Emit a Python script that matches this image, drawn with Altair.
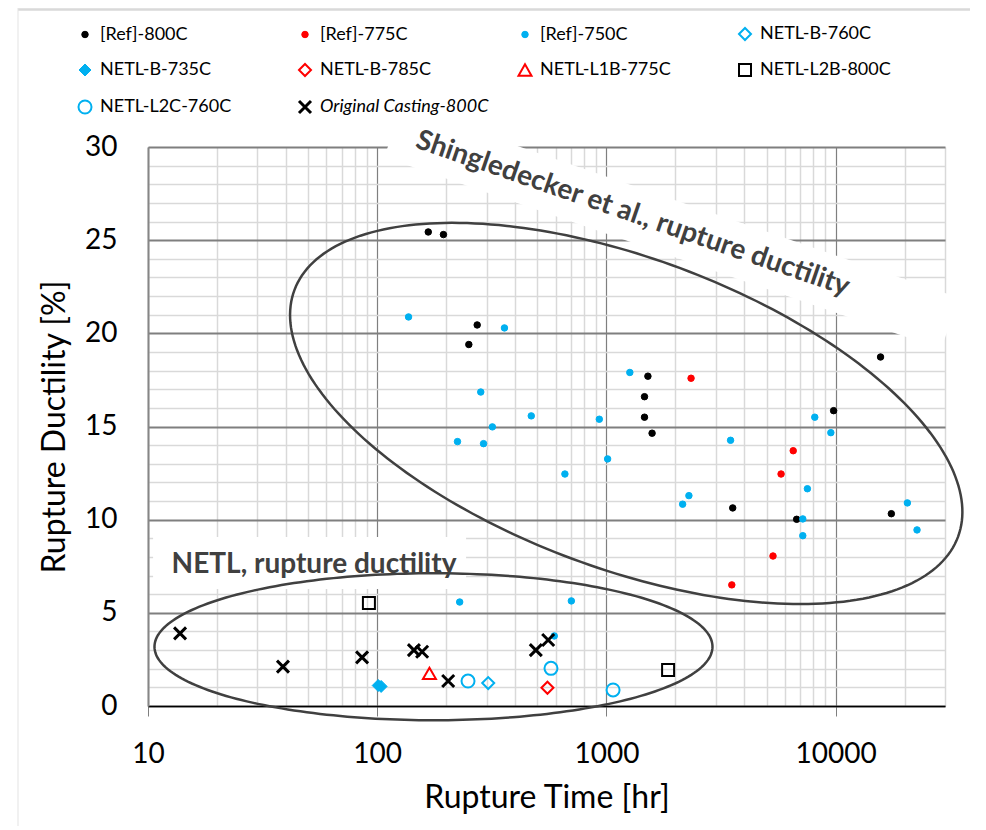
import math
import altair as alt
import pandas as pd

# ---------------- data ----------------
series_names = ["[Ref]-800C", "[Ref]-775C", "[Ref]-750C", "NETL-B-760C", "NETL-B-735C",
                "NETL-B-785C", "NETL-L1B-775C", "NETL-L2B-800C", "NETL-L2C-760C",
                "Original Casting-800C"]

ref800_t = [167, 194.5, 273, 251, 1517, 1466, 1466, 1582, 15700, 9800, 3556, 6760, 17500]
ref800_d = [25.44, 25.3, 20.45, 19.4, 17.7, 16.6, 15.5, 14.64, 18.73, 15.85, 10.63, 10.02, 10.32]

ref775_t = [2340, 6530, 5780, 5330, 3524]
ref775_d = [17.59, 13.7, 12.45, 8.05, 6.5]

ref750_t = [137, 359, 283, 470, 318, 224, 291, 229, 1265, 931, 8110, 9530, 3480, 1012,
            659, 2290, 2150, 7530, 7190, 7190, 20560, 22650, 703, 592]
ref750_d = [20.88, 20.29, 16.85, 15.57, 14.98, 14.19, 14.08, 5.58, 17.9, 15.39, 15.5, 14.67,
            14.26, 13.26, 12.45, 11.29, 10.83, 11.66, 10.04, 9.14, 10.9, 9.45, 5.64, 3.76]

b760_t = [305]
b760_d = [1.23]
b735_t = [101, 104]
b735_d = [1.1, 1.05]
b785_t = [553]
b785_d = [0.98]
l1b775_t = [169]
l1b775_d = [1.75]
l2b800_t = [92, 1858]
l2b800_d = [5.53, 1.93]
l2c760_t = [249, 573, 1069]
l2c760_d = [1.34, 2.02, 0.86]
orig800_t = [13.8, 38.8, 85.9, 144.6, 157, 204, 492, 557]
orig800_d = [3.9, 2.11, 2.61, 3.0, 2.91, 1.34, 3.0, 3.54]

series_t = [ref800_t, ref775_t, ref750_t, b760_t, b735_t, b785_t, l1b775_t, l2b800_t, l2c760_t, orig800_t]
series_d = [ref800_d, ref775_d, ref750_d, b760_d, b735_d, b785_d, l1b775_d, l2b800_d, l2c760_d, orig800_d]

x_ticks = [10, 20, 30, 40, 50, 60, 70, 80, 90,
           100, 200, 300, 400, 500, 600, 700, 800, 900,
           1000, 2000, 3000, 4000, 5000, 6000, 7000, 8000, 9000,
           10000, 20000, 30000]
y_ticks = list(range(0, 31))

# annotations
ann_text = ["Shingledecker et al., rupture ductility", "NETL, rupture ductility"]
ann_t = [1268, 53.0]
ann_d = [26.0, 7.14]
ann_angle = [19, 0]

# ---------------- styles ----------------
BLACK, RED, BLUE = "#000000", "#FF0000", "#00B0F0"
X_PATH = "M-1,-1L1,1M1,-1L-1,1"
shapes = ["circle", "circle", "circle", "diamond", "diamond", "diamond", "triangle-up",
          "square", "circle", X_PATH]
fills = [BLACK, RED, BLUE, "transparent", BLUE, "transparent", "transparent",
         "transparent", "transparent", "transparent"]
strokes = [BLACK, RED, BLUE, BLUE, BLUE, RED, RED, BLACK, BLUE, BLACK]
sizes = [42, 42, 42, 144, 144, 144, 169, 144, 169, 144]
swidths = [1, 1, 1, 2, 1, 2, 2, 2, 2, 3]

W, H = 797, 559
XMIN, XMAX = 10, 30000
L0, L1 = math.log10(XMIN), math.log10(XMAX)


def x_to_px(x):
    return (math.log10(x) - L0) / (L1 - L0) * W


def px_to_x(px):
    return 10 ** (L0 + px / W * (L1 - L0))


def y_to_py(y):
    return (1 - y / 30.0) * H


def py_to_y(py):
    return 30.0 * (1 - py / H)


rows = []
for name, ts, ds in zip(series_names, series_t, series_d):
    for t, d in zip(ts, ds):
        rows.append({"series": name, "t": t, "d": d})
pts = pd.DataFrame(rows)

# ellipses: center (data), semi-axes in px, rotation
ell_params = [("big", 1220, 15.7, 354, 155, 20.4), ("small", 176, 3.18, 279, 73.5, 0.0)]
erows = []
for nm, cx, cy, a, b, rot in ell_params:
    cxp, cyp = x_to_px(cx), y_to_py(cy)
    th = math.radians(rot)
    n = 240
    for i in range(n + 1):
        tt = 2 * math.pi * i / n
        px = cxp + a * math.cos(th) * math.cos(tt) - b * math.sin(th) * math.sin(tt)
        py = cyp + a * math.sin(th) * math.cos(tt) + b * math.cos(th) * math.sin(tt)
        erows.append({"name": nm, "i": i, "t": px_to_x(px), "d": py_to_y(py)})
ell = pd.DataFrame(erows)

xs = alt.Scale(type="log", domain=[XMIN, XMAX], nice=False)
ys = alt.Scale(domain=[0, 30], nice=False, zero=False)

xmaj = "datum.value == 10 || datum.value == 100 || datum.value == 1000 || datum.value == 10000"
ymaj = "datum.value % 5 == 0"

x_axis = alt.Axis(
    values=x_ticks, labelOverlap=False, labelFlush=False,
    labelExpr="(" + xmaj + ") ? format(datum.value, 'd') : ''",
    labelFont="Lato", labelFontSize=28, labelColor="black", labelPadding=24,
    tickSize=10, tickColor={"condition": {"test": xmaj, "value": "#7f7f7f"}, "value": "transparent"},
    grid=True,
    gridColor={"condition": {"test": xmaj, "value": "#7f7f7f"}, "value": "#d9d9d9"},
    gridWidth={"condition": {"test": xmaj, "value": 1.2}, "value": 1.5},
    domainColor="black", domainWidth=1.5,
    titleFont="Lato", titleFontSize=32, titleFontWeight="normal",
    titleColor="black", titlePadding=14,
)
y_axis = alt.Axis(
    values=y_ticks, labelOverlap=False, labelFlush=False,
    labelExpr="(" + ymaj + ") ? datum.label : ''",
    labelFont="Lato", labelFontSize=28, labelColor="black", labelPadding=31,
    ticks=False, grid=True,
    gridColor={"condition": {"test": ymaj, "value": "#7f7f7f"}, "value": "#d9d9d9"},
    gridWidth={"condition": {"test": ymaj, "value": 1.8}, "value": 1.5},
    domainColor="#868686", domainWidth=2,
    titleFont="Lato", titleFontSize=32, titleFontWeight="normal",
    titleColor="black", titlePadding=13,
)

legend = alt.Legend(
    title=None, orient="none", legendX=-72, legendY=-123, columns=4, direction="horizontal",
    gridAlign="all", columnPadding=24, rowPadding=13, labelFont="Lato", labelFontSize=18,
    labelColor="black", labelOffset=6, padding=0, labelLimit=400,
    labelFontStyle=alt.ExprRef(expr="datum.label == 'Original Casting-800C' ? 'italic' : 'normal'"),
)

X = alt.X("t:Q", scale=xs, axis=x_axis, title="Rupture Time [hr]")
Y = alt.Y("d:Q", scale=ys, axis=y_axis, title="Rupture Ductility [%]")

points = alt.Chart(pts).mark_point(opacity=1).encode(
    x=X, y=Y,
    shape=alt.Shape("series:N", scale=alt.Scale(domain=series_names, range=shapes), legend=legend),
    fill=alt.Fill("series:N", scale=alt.Scale(domain=series_names, range=fills), legend=legend),
    stroke=alt.Stroke("series:N", scale=alt.Scale(domain=series_names, range=strokes), legend=legend),
    size=alt.Size("series:N", scale=alt.Scale(type="ordinal", domain=series_names, range=sizes), legend=legend),
    strokeWidth=alt.StrokeWidth("series:N", scale=alt.Scale(type="ordinal", domain=series_names, range=swidths), legend=legend),
)

# white text boxes behind the annotation texts
box_t = [1923, 50.7]
box_d = [25.68, 7.67]
boxes = []
for bt, bd, ang, (bw, bh) in zip(box_t, box_d, ann_angle, [(589, 54), (313, 52)]):
    h = bh / bw
    path = f"M-1,{-h:.4f}L1,{-h:.4f}L1,{h:.4f}L-1,{h:.4f}Z"
    boxes.append(
        alt.Chart(pd.DataFrame({"t": [bt], "d": [bd]})).mark_point(
            shape=path, size=bw * bw, angle=ang, filled=True, color="white", opacity=1
        ).encode(x=X, y=Y)
    )

ellipses = alt.Chart(ell).mark_line(color="#404040", strokeWidth=2.5).encode(
    x=X, y=Y, order="i:Q", detail="name:N",
)

texts = []
for tx, tt, td, ang in zip(ann_text, ann_t, ann_d, ann_angle):
    texts.append(
        alt.Chart(pd.DataFrame({"t": [tt], "d": [td], "s": [tx]})).mark_text(
            font="Lato", fontWeight="bold", fontSize=28, color="#404040", angle=ang,
            align="center", baseline="alphabetic"
        ).encode(x=X, y=Y, text="s:N")
    )

frame_top = alt.Chart(pd.DataFrame({"k": [0]})).mark_rule(color="#d9d9d9", strokeWidth=2.5).encode(
    x=alt.value(-130), x2=alt.value(822), y=alt.value(-137.5))
frame_left = alt.Chart(pd.DataFrame({"k": [0]})).mark_rule(color="#e3e3e3", strokeWidth=1).encode(
    x=alt.value(-130), y=alt.value(-139), y2=alt.value(679))

chart = alt.layer(points, *boxes, ellipses, *texts, frame_top, frame_left).properties(
    width=W, height=H,
    autosize=alt.AutoSizeParams(type="none"),
    padding={"left": 140, "top": 139, "right": 25, "bottom": 120},
).configure_view(stroke=None)

chart.save("out.html", embed_options={"renderer": "svg", "actions": False})
